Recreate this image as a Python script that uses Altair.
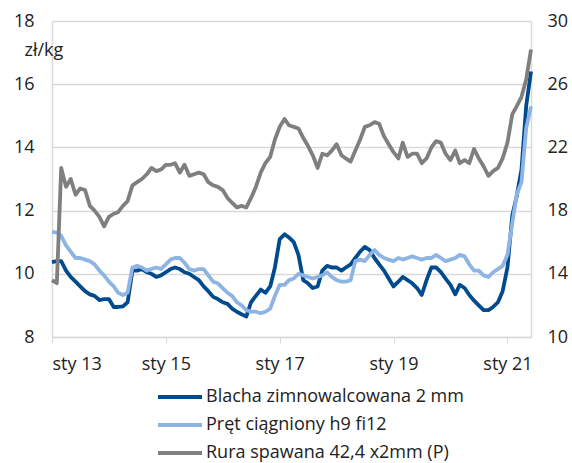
import altair as alt
import pandas as pd

dates = pd.date_range("2013-01-01", periods=102, freq="MS").strftime("%Y-%m-%d").tolist()

blacha = [10.37, 10.4, 10.4, 10.1, 9.9, 9.75, 9.6, 9.45, 9.35, 9.3,
          9.17, 9.2, 9.2, 8.95, 8.95, 8.97, 9.1, 10.1, 10.1, 10.15,
          10.05, 10.0, 9.9, 9.95, 10.05, 10.15, 10.2, 10.15, 10.05, 10.0,
          9.9, 9.8, 9.6, 9.45, 9.27, 9.2, 9.1, 9.05, 8.9, 8.8,
          8.72, 8.65, 9.1, 9.3, 9.5, 9.4, 9.6, 10.2, 11.1, 11.25,
          11.15, 11.0, 10.6, 9.8, 9.7, 9.55, 9.6, 10.1, 10.25, 10.2,
          10.2, 10.1, 10.2, 10.3, 10.5, 10.7, 10.85, 10.75, 10.5, 10.3,
          10.1, 9.85, 9.6, 9.75, 9.9, 9.8, 9.7, 9.55, 9.33, 9.8,
          10.2, 10.2, 10.05, 9.85, 9.65, 9.35, 9.65, 9.55, 9.33, 9.15,
          9.0, 8.85, 8.85, 8.95, 9.1, 9.45, 10.2, 11.85, 12.45, 13.3,
          15.3, 16.4]

pret = [11.33, 11.3, 11.2, 10.9, 10.7, 10.5, 10.5, 10.45, 10.4, 10.3,
        10.1, 9.95, 9.75, 9.6, 9.4, 9.33, 9.4, 10.2, 10.25, 10.2,
        10.1, 10.15, 10.2, 10.15, 10.3, 10.45, 10.5, 10.5, 10.35, 10.15,
        10.1, 10.15, 10.15, 9.95, 9.75, 9.7, 9.55, 9.4, 9.3, 9.1,
        9.0, 8.85, 8.8, 8.8, 8.75, 8.8, 8.9, 9.3, 9.65, 9.65,
        9.8, 9.85, 10.0, 9.95, 9.9, 9.85, 9.9, 9.95, 10.05, 9.9,
        9.8, 9.75, 9.75, 9.8, 10.4, 10.45, 10.4, 10.6, 10.75, 10.6,
        10.5, 10.45, 10.4, 10.5, 10.45, 10.5, 10.55, 10.5, 10.45, 10.5,
        10.5, 10.6, 10.5, 10.4, 10.45, 10.5, 10.6, 10.55, 10.3, 10.1,
        10.1, 9.95, 9.9, 10.05, 10.15, 10.25, 10.6, 11.6, 12.5, 12.9,
        14.6, 15.3]

rura = [13.6, 13.4, 20.7, 19.5, 20.0, 19.0, 19.4, 19.3, 18.3, 18.0,
        17.6, 17.0, 17.6, 17.8, 17.9, 18.3, 18.6, 19.6, 19.8, 20.0,
        20.3, 20.7, 20.5, 20.6, 20.9, 20.9, 21.0, 20.4, 20.9, 20.2,
        20.3, 20.4, 20.3, 19.8, 19.6, 19.5, 19.3, 18.8, 18.5, 18.2,
        18.3, 18.2, 18.8, 19.5, 20.4, 21.0, 21.4, 22.5, 23.3, 23.8,
        23.4, 23.3, 23.2, 22.6, 22.1, 21.5, 20.7, 21.6, 21.5, 21.8,
        22.2, 21.5, 21.3, 21.1, 21.8, 22.5, 23.3, 23.4, 23.6, 23.5,
        22.7, 22.2, 21.7, 21.3, 22.3, 21.4, 21.6, 21.6, 21.0, 21.3,
        22.0, 22.4, 22.3, 21.6, 21.2, 21.8, 21.0, 21.2, 21.0, 21.9,
        21.3, 20.8, 20.2, 20.5, 20.7, 21.3, 22.3, 24.1, 24.6, 25.2,
        26.3, 28.2]

names = ["Blacha zimnowalcowana 2 mm", "Pręt ciągniony h9 fi12", "Rura spawana 42,4 x2mm (P)"]
colors = ["#004B8D", "#8EB4E3", "#7F7F7F"]
left_ticks = [8, 10, 12, 14, 16, 18]
right_ticks = [10, 14, 18, 22, 26, 30]
x_tick_years = [2013, 2015, 2017, 2019, 2021]

FONT = "Open Sans"

left_df = pd.concat([
    pd.DataFrame({"date": dates, "value": blacha, "series": names[0], "o": 0}),
    pd.DataFrame({"date": dates, "value": pret, "series": names[1], "o": 1}),
])
right_df = pd.DataFrame({"date": dates, "value": rura, "series": names[2], "o": 2})

x_enc = alt.X(
    "date:T",
    scale=alt.Scale(type="utc",
                    domain=[alt.DateTime(year=2013, month=1, date=1, utc=True),
                            alt.DateTime(year=2021, month=6, date=1, utc=True)]),
    axis=alt.Axis(
        values=[alt.DateTime(year=y, month=1, date=1, utc=True) for y in x_tick_years],
        labelExpr="'sty ' + utcFormat(datum.value, '%y')",
        title=None, grid=False, domainColor="#d9d9d9", tickColor="#d9d9d9",
        tickSize=6, labelPadding=12, labelFontSize=18, labelFont=FONT,
        labelColor="#222222", domainWidth=1.5,
    ),
)

color_enc = alt.Color(
    "series:N",
    scale=alt.Scale(domain=names, range=colors),
    legend=alt.Legend(
        orient="none", legendX=119, legendY=367, direction="vertical",
        title=None, symbolType="M-4.4,0H4.4", symbolStrokeWidth=4, symbolSize=100,
        labelFontSize=18, labelFont=FONT, labelColor="#222222", labelLimit=500,
        rowPadding=10, labelOffset=17, padding=0,
    ),
)

right_layer = alt.Chart(right_df).mark_line(strokeWidth=3.8, strokeJoin="round").encode(
    x=x_enc,
    y=alt.Y("value:Q", scale=alt.Scale(domain=[10, 30]),
            axis=alt.Axis(orient="right", values=right_ticks, title=None, grid=False,
                          ticks=False, domainColor="#d9d9d9", domainWidth=1.5,
                          labelPadding=16, labelFontSize=18, labelFont=FONT,
                          labelColor="#222222")),
    color=color_enc,
    order="o:Q",
)

left_layer = alt.Chart(left_df).mark_line(strokeWidth=3.8, strokeJoin="round").encode(
    x=x_enc,
    y=alt.Y("value:Q", scale=alt.Scale(domain=[8, 18]),
            axis=alt.Axis(values=left_ticks, title="zł/kg", titleAngle=0,
                          titleAlign="left", titleBaseline="middle",
                          titleX=-28, titleY=29, titleFontSize=18,
                          titleFontWeight="normal", titleFont=FONT, titleColor="#222222",
                          grid=True, gridColor="#d9d9d9", gridWidth=1.5,
                          ticks=False, domainColor="#d9d9d9", domainWidth=1.5,
                          labelPadding=18, labelFontSize=18, labelFont=FONT,
                          labelColor="#222222")),
    color=color_enc,
    detail="series:N",
)

chart = alt.layer(left_layer, right_layer).resolve_scale(y="independent").properties(
    width=479, height=316,
    autosize=alt.AutoSizeParams(type="none"),
    padding={"left": 52, "top": 21, "right": 41, "bottom": 126},
).configure_view(stroke=None).configure(background="white")

chart.save("out.html", embed_options={"renderer": "svg", "actions": False})
